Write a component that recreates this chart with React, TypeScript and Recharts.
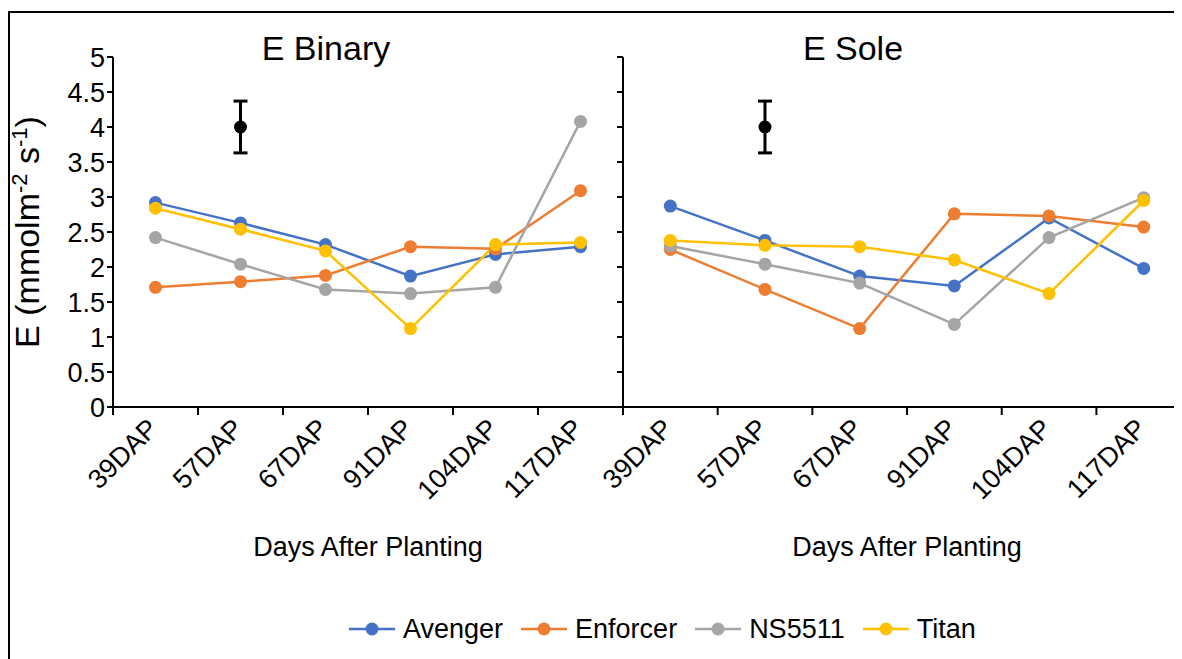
import React from "react";
import { LineChart, Line, XAxis, YAxis, ErrorBar } from "recharts";

const FONT = '"Liberation Sans", Arial, sans-serif';

const categories = ["39DAP", "57DAP", "67DAP", "91DAP", "104DAP", "117DAP"];
const yTicks = [0, 0.5, 1, 1.5, 2, 2.5, 3, 3.5, 4, 4.5, 5];

const seriesNames = ["Avenger", "Enforcer", "NS5511", "Titan"];
const seriesColors = ["#4472C4", "#ED7D31", "#A5A5A5", "#FFC000"];

// E Binary panel
const binaryAvenger = [2.92, 2.63, 2.32, 1.87, 2.18, 2.29];
const binaryEnforcer = [1.71, 1.79, 1.88, 2.29, 2.26, 3.09];
const binaryNS5511 = [2.42, 2.04, 1.68, 1.62, 1.71, 4.08];
const binaryTitan = [2.84, 2.54, 2.23, 1.12, 2.32, 2.35];

// E Sole panel
const soleAvenger = [2.87, 2.38, 1.87, 1.73, 2.7, 1.98];
const soleEnforcer = [2.25, 1.68, 1.12, 2.76, 2.73, 2.57];
const soleNS5511 = [2.3, 2.04, 1.77, 1.18, 2.42, 2.99];
const soleTitan = [2.38, 2.31, 2.29, 2.1, 1.62, 2.95];

// LSD-style marker shown in both panels
const errMean = [null, 4, null, null, null, null];
const errSize = [null, 0.37, null, null, null, null];

const buildRows = (series: number[][]) =>
  categories.map((day, i) => {
    const row: any = { day, mean: errMean[i], err: errSize[i] };
    seriesNames.forEach((name, s) => {
      row[name] = series[s][i];
    });
    return row;
  });

const binaryRows = buildRows([binaryAvenger, binaryEnforcer, binaryNS5511, binaryTitan]);
const soleRows = buildRows([soleAvenger, soleEnforcer, soleNS5511, soleTitan]);

// category label rotated like Excel, plus tick marks on the band edges
const DapTick = (props: any) => {
  const { x, y, payload, index, band, count } = props;
  const tx = x + 4;
  const ty = y + 23;
  const half = band / 2;
  return (
    <g>
      <line x1={x - half} y1={y} x2={x - half} y2={y + 8} stroke="#000" strokeWidth={2} />
      {index === count - 1 && (
        <line x1={x + half} y1={y} x2={x + half} y2={y + 8} stroke="#000" strokeWidth={2} />
      )}
      <text
        x={tx}
        y={ty}
        transform={`rotate(-45, ${tx}, ${ty})`}
        textAnchor="end"
        fontSize={27}
        fill="#000"
        fontFamily={FONT}
      >
        {payload.value}
      </text>
    </g>
  );
};

const YTitle = (props: any) => {
  const { viewBox } = props;
  const cx = 31;
  const cy = viewBox ? viewBox.y + viewBox.height / 2 : 224;
  return (
    <text
      x={cx}
      y={cy}
      transform={`rotate(-90, ${cx}, ${cy})`}
      textAnchor="middle"
      fontSize={34}
      fill="#000"
      fontFamily={FONT}
    >
      <tspan>E (mmolm</tspan>
      <tspan dy={-12} fontSize={22}>-2</tspan>
      <tspan dy={12}> s</tspan>
      <tspan dy={-12} fontSize={22}>-1</tspan>
      <tspan dy={12}>)</tspan>
    </text>
  );
};

interface PanelProps {
  rows: any[];
  width: number;
  yWidth: number;
  band: number;
  showYLabels: boolean;
}

const Panel: React.FC<PanelProps> = ({ rows, width, yWidth, band, showYLabels }) => (
  <LineChart
    width={width}
    height={557}
    data={rows}
    margin={{ top: 49, right: 0, bottom: 0, left: 0 }}
    style={{ fontFamily: FONT }}
  >
    <XAxis
      dataKey="day"
      height={158}
      tickSize={0}
      tickMargin={0}
      tickLine={false}
      stroke="#000"
      strokeWidth={2}
      interval={0}
      tick={(p: any) => <DapTick {...p} band={band} count={rows.length} />}
      padding={{ left: band / 2, right: band / 2 }}
      label={{
        value: "Days After Planting",
        position: "insideBottom",
        offset: 9,
        fontSize: 27,
        fill: "#000",
        fontFamily: FONT,
      }}
    />
    <YAxis
      domain={[0, 5]}
      ticks={yTicks}
      interval={0}
      width={yWidth}
      stroke="#000"
      strokeWidth={2}
      tickSize={6}
      tick={{ fontSize: 27, fill: "#000", fontFamily: FONT }}
      tickFormatter={showYLabels ? undefined : () => ""}
      label={showYLabels ? <YTitle /> : undefined}
    />
    {seriesNames.map((name, s) => (
      <Line
        key={name}
        dataKey={name}
        stroke={seriesColors[s]}
        strokeWidth={2.5}
        dot={{ r: 6.5, fill: seriesColors[s], stroke: seriesColors[s], strokeWidth: 0 }}
        activeDot={false}
        isAnimationActive={false}
      />
    ))}
    <Line
      dataKey="mean"
      stroke="none"
      dot={{ r: 6.5, fill: "#000", stroke: "#000", strokeWidth: 0 }}
      activeDot={false}
      legendType="none"
      isAnimationActive={false}
    >
      <ErrorBar dataKey="err" direction="y" width={7} stroke="#000" strokeWidth={3} />
    </Line>
  </LineChart>
);

const titleStyle: React.CSSProperties = {
  position: "absolute",
  width: 240,
  textAlign: "center",
  fontSize: 34,
  lineHeight: "34px",
  fontFamily: FONT,
  color: "#000",
};

const App: React.FC = () => (
  <div
    style={{
      position: "relative",
      width: 1174,
      height: 651,
      overflow: "hidden",
      background: "#fff",
      fontFamily: FONT,
    }}
  >
    <div
      style={{
        position: "absolute",
        left: 0,
        top: 3,
        width: 1300,
        height: 800,
        borderTop: "2px solid #000",
        borderLeft: "2px solid #000",
      }}
    />
    <div style={{ position: "absolute", left: 0, top: 0 }}>
      <Panel rows={binaryRows} width={615} yWidth={105} band={85} showYLabels={true} />
    </div>
    <div style={{ position: "absolute", left: 535, top: 0 }}>
      <Panel rows={soleRows} width={648} yWidth={80} band={94.6} showYLabels={false} />
    </div>
    <div style={{ ...titleStyle, left: 326 - 8 - 120, top: 23 }}>E Binary</div>
    <div style={{ ...titleStyle, left: 853 - 8 - 120, top: 23 }}>E Sole</div>
    <div
      style={{
        position: "absolute",
        left: 341,
        top: 605,
        display: "flex",
        alignItems: "center",
        fontSize: 27,
        lineHeight: "32px",
        color: "#000",
      }}
    >
      {seriesNames.map((name, s) => (
        <div key={name} style={{ display: "flex", alignItems: "center", marginRight: 18 }}>
          <svg width={46} height={20} style={{ marginRight: 8 }}>
            <line x1={0} y1={10} x2={46} y2={10} stroke={seriesColors[s]} strokeWidth={2.5} />
            <circle cx={23} cy={10} r={6.5} fill={seriesColors[s]} />
          </svg>
          <span>{name}</span>
        </div>
      ))}
    </div>
  </div>
);

export default App;
